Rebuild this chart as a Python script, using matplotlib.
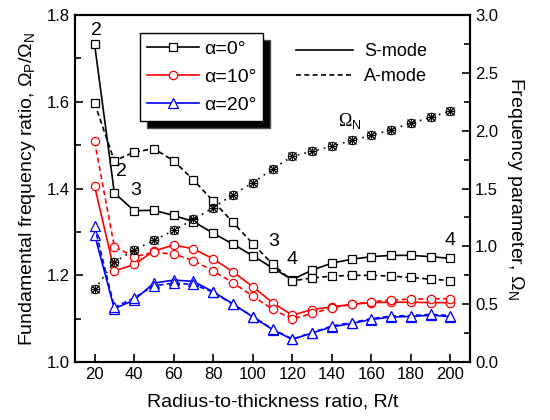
import numpy as np
import matplotlib
matplotlib.use("Agg")
import matplotlib.pyplot as plt

plt.rcParams['font.family'] = ['Liberation Sans', 'DejaVu Sans']
plt.rcParams['mathtext.fontset'] = 'custom'
plt.rcParams['mathtext.rm'] = 'Liberation Sans'
plt.rcParams['mathtext.it'] = 'Liberation Sans:italic'

# radius-to-thickness ratio
rt = [20, 30, 40, 50, 60, 70, 80, 90, 100, 110, 120, 130, 140, 150, 160, 170, 180, 190, 200]

# frequency ratio, S-mode (solid) and A-mode (dashed)
s_a0 = [1.733, 1.390, 1.349, 1.350, 1.338, 1.324, 1.297, 1.272, 1.245, 1.217, 1.190,
        1.212, 1.228, 1.237, 1.243, 1.246, 1.246, 1.243, 1.239]
a_a0 = [1.597, 1.464, 1.484, 1.492, 1.464, 1.420, 1.371, 1.322, 1.273, 1.226, 1.187,
        1.194, 1.198, 1.200, 1.200, 1.198, 1.195, 1.191, 1.188]
s_a10 = [1.406, 1.210, 1.225, 1.256, 1.270, 1.261, 1.238, 1.208, 1.174, 1.137, 1.108,
         1.121, 1.127, 1.133, 1.137, 1.138, 1.138, 1.137, 1.137]
a_a10 = [1.509, 1.266, 1.243, 1.253, 1.249, 1.234, 1.210, 1.183, 1.152, 1.122, 1.099,
         1.112, 1.125, 1.133, 1.139, 1.143, 1.145, 1.146, 1.146]
s_a20 = [1.294, 1.123, 1.143, 1.182, 1.189, 1.186, 1.162, 1.134, 1.104, 1.075, 1.052,
         1.067, 1.081, 1.089, 1.098, 1.104, 1.105, 1.108, 1.105]
a_a20 = [1.313, 1.126, 1.148, 1.176, 1.182, 1.179, 1.161, 1.133, 1.105, 1.076, 1.053,
         1.068, 1.083, 1.091, 1.100, 1.106, 1.107, 1.110, 1.107]

# frequency parameter Omega_N (right axis)
omega_n = [0.629, 0.865, 0.968, 1.052, 1.138, 1.233, 1.334, 1.448, 1.549, 1.670, 1.779,
           1.822, 1.865, 1.916, 1.960, 2.009, 2.066, 2.115, 2.172]

# mode numbers written next to the curves
mode_labels = ['2', '2', '3', '3', '4', '4']
mode_x = [21, 33.5, 40.7, 110.5, 119.8, 200]
mode_y = [1.765, 1.44, 1.396, 1.278, 1.236, 1.28]

fig = plt.figure(figsize=(5.5, 4.2), dpi=100)
ax = fig.add_axes([0.136, 0.138, 0.719, 0.826])
ax2 = ax.twinx()

dash = (0, (3, 2))
mk = dict(markersize=6, markerfacecolor='white', markeredgewidth=0.9)

h0, = ax.plot(rt, s_a0, '-', color='black', marker='s', lw=1.2, **mk)
ax.plot(rt, a_a0, linestyle=dash, color='black', marker='s', lw=1.2, **mk)
h10, = ax.plot(rt, s_a10, '-', color='red', marker='o', lw=1.2, **mk)
ax.plot(rt, a_a10, linestyle=dash, color='red', marker='o', lw=1.2, **mk)
h20, = ax.plot(rt, s_a20, '-', color='blue', marker='^', lw=1.2,
               markersize=7, markerfacecolor='white', markeredgewidth=0.9)
ax.plot(rt, a_a20, linestyle=dash, color='blue', marker='^', lw=1.2,
        markersize=7, markerfacecolor='white', markeredgewidth=0.9)

# Omega_N: dotted line with hatched-looking circle markers
ax2.plot(rt, omega_n, linestyle=(0, (1, 3)), color='black', lw=1.2,
         marker='o', markersize=6, markerfacecolor='none', markeredgewidth=0.8)
ax2.plot(rt, omega_n, linestyle='none', color='black', marker='x', markersize=6, markeredgewidth=1.0)
ax2.plot(rt, omega_n, linestyle='none', color='black', marker='+', markersize=6, markeredgewidth=0.7)

for lab, x, y in zip(mode_labels, mode_x, mode_y):
    ax.text(x, y, lab, fontsize=14, ha='center', va='center')
ax.text(149, 1.556, r'Ω$_\mathrm{N}$', fontsize=13, ha='center', va='center',
        family=['Liberation Serif', 'DejaVu Serif'])

ax.set_xlim(10, 210)
ax.set_ylim(1.0, 1.8)
ax2.set_ylim(0.0, 3.0)
ax.set_xticks(np.arange(20, 201, 20))
ax.set_yticks(np.arange(1.0, 1.81, 0.2))
ax.set_yticks(np.arange(1.1, 1.8, 0.2), minor=True)
ax2.set_yticks(np.arange(0.0, 3.01, 0.5))
ax2.set_yticks(np.arange(0.25, 3.0, 0.5), minor=True)
ax.yaxis.set_major_formatter(matplotlib.ticker.FormatStrFormatter('%.1f'))
ax2.yaxis.set_major_formatter(matplotlib.ticker.FormatStrFormatter('%.1f'))

for a in (ax, ax2):
    a.tick_params(which='both', direction='in', labelsize=12, width=1.2)
    a.tick_params(which='major', length=6)
    a.tick_params(which='minor', length=4)
    for sp in a.spines.values():
        sp.set_linewidth(1.5)
ax.tick_params(axis='x', top=False)

ax.set_xlabel('Radius-to-thickness ratio, R/t', fontsize=14, labelpad=8)
ax.set_ylabel('Fundamental frequency ratio, Ω$_\\mathrm{P}$/Ω$_\\mathrm{N}$', fontsize=14, labelpad=6)
ax2.set_ylabel('Frequency parameter, Ω$_\\mathrm{N}$', fontsize=14, rotation=270, labelpad=20)

leg1 = ax2.legend([h0, h10, h20], ['α=0°', 'α=10°', 'α=20°'],
                  loc='upper left', bbox_to_anchor=(0.165, 0.948), borderaxespad=0,
                  fontsize=14, frameon=True, fancybox=False, edgecolor='black',
                  framealpha=1, handlelength=2.7, handletextpad=0.25,
                  borderpad=0.35, labelspacing=0.55,
                  shadow={'ox': 5, 'oy': -5, 'facecolor': 'black', 'alpha': 1})
leg1.get_frame().set_linewidth(1.0)
ax2.add_artist(leg1)

s_line = matplotlib.lines.Line2D([], [], color='black', lw=1.2)
a_line = matplotlib.lines.Line2D([], [], color='black', lw=1.2, linestyle=dash)
ax2.legend([s_line, a_line], ['S-mode', 'A-mode'], loc='upper left',
           bbox_to_anchor=(0.54, 0.94), borderaxespad=0, frameon=False,
           fontsize=13, handlelength=3.2, handletextpad=0.6, labelspacing=0.45)

fig.savefig('out.png', dpi=100)
